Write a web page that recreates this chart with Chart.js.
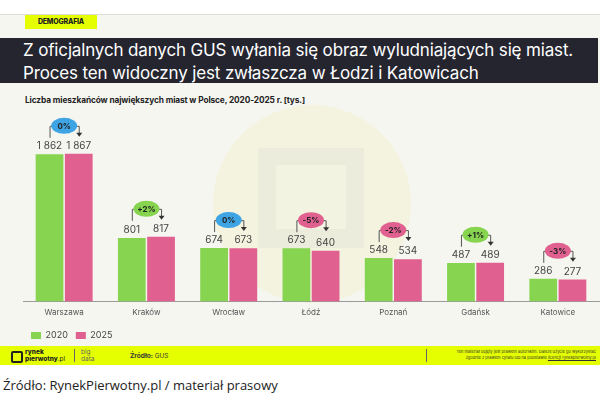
<!DOCTYPE html>
<html><head><meta charset="utf-8">
<script src="https://cdn.jsdelivr.net/npm/chart.js@4/dist/chart.umd.min.js"></script>
<style>
html,body{margin:0;padding:0;width:600px;height:400px;overflow:hidden;background:#fff;font-family:"Inter","Lato",sans-serif;}
#bg{position:absolute;left:0;top:14px;width:600px;height:332px;background:#f6f6f1;border-top:1px solid #dcdcd8;}
#circle{position:absolute;left:213px;top:105px;width:198px;height:198px;border-radius:50%;background:#f3f3df;}
#sq1{position:absolute;left:258px;top:148px;width:106px;height:100px;background:#ececdc;}
#sq2{position:absolute;left:276px;top:165px;width:70px;height:64px;background:#f3f3e2;}
#tag{position:absolute;left:25px;top:15px;width:72px;height:14px;background:#e6ff00;font-weight:800;font-size:7px;line-height:14px;text-align:center;color:#222;letter-spacing:-0.2px;}
#band{position:absolute;left:0;top:38px;width:598px;height:45px;background:#24252f;}
#title{position:absolute;left:23px;top:39px;color:#fff;font-size:17px;font-weight:400;line-height:22.5px;letter-spacing:-0.15px;white-space:nowrap;}
#sub{position:absolute;left:25px;top:95px;font-size:8.3px;font-weight:700;color:#222;white-space:nowrap;letter-spacing:-0.1px;}
#foot{position:absolute;left:0;top:346px;width:600px;height:19px;background:#e6ff00;font-size:6px;color:#333;}
#caption{position:absolute;left:3px;top:376px;font-family:"Open Sans",sans-serif;font-size:13px;color:#222;white-space:nowrap;}
#wrap{position:absolute;left:0;top:110px;width:600px;height:240px;}
</style></head><body>
<div id="bg"></div>
<div id="circle"></div><div id="sq1"></div><div id="sq2"></div>
<div id="tag">DEMOGRAFIA</div>
<div id="band"></div>
<div id="title">Z oficjalnych danych GUS wyłania się obraz wyludniających się miast.<br>Proces ten widoczny jest zwłaszcza w Łodzi i Katowicach</div>
<div id="sub">Liczba mieszkańców największych miast w Polsce, 2020-2025 r. [tys.]</div>
<div id="wrap"><canvas id="c" width="600" height="240"></canvas></div>
<div id="foot">
  <div style="position:absolute;left:11px;top:5px;width:8px;height:8px;border:2px solid #222;border-radius:2px;"></div>
  <div style="position:absolute;left:25px;top:3px;font-size:6.5px;font-weight:800;line-height:6.5px;color:#222;">rynek<br>pierwotny<span style="font-weight:400">.pl</span></div>
  <div style="position:absolute;left:74px;top:3px;height:13px;border-left:1px solid #666;"></div>
  <div style="position:absolute;left:81px;top:3px;font-size:6.5px;line-height:6.5px;color:#666;">big<br>data</div>
  <div style="position:absolute;left:130px;top:6px;font-size:6.5px;color:#333;"><b>Źródło:</b> GUS</div>
  <div style="position:absolute;left:426px;top:3px;height:13px;border-left:1px solid #666;"></div>
  <div style="position:absolute;right:4px;top:3px;font-size:4px;line-height:6px;text-align:right;color:#333;">Ten materiał objęty jest prawem autorskim. Dalsze użycie go wykorzystać<br>zgodnie z prawem cytatu lub na podstawie <u>licencji rynekpierwotny.pl</u></div>
</div>
<div id="caption">Źródło: RynekPierwotny.pl / materiał prasowy</div>
<script>
const categories = ["Warszawa","Kraków","Wrocław","Łódź","Poznań","Gdańsk","Katowice"];
const values2020 = [1862, 801, 674, 673, 548, 487, 286];
const values2025 = [1867, 817, 673, 640, 534, 489, 277];
const changeLabels = ["0%","+2%","0%","-5%","-2%","+1%","-3%"];
const seriesNames = ["2020","2025"];
const GREEN = "#86d44f", PINK = "#e0608f", BLUE = "#3fa4e4";

function fmt(v){ const s=String(v); return s.length>3 ? s.slice(0,s.length-3)+" "+s.slice(-3) : s; }

const annot = {
  id:"annot",
  afterDatasetsDraw(chart){
    const ctx = chart.ctx;
    const m0 = chart.getDatasetMeta(0), m1 = chart.getDatasetMeta(1);
    ctx.save();
    ctx.textAlign="center"; ctx.textBaseline="middle";
    for(let i=0;i<categories.length;i++){
      const b0=m0.data[i], b1=m1.data[i];
      ctx.font="400 10px Inter, sans-serif"; ctx.fillStyle="#444";
      ctx.fillText(fmt(values2020[i]), b0.x, b0.y-8);
      ctx.fillText(fmt(values2025[i]), b1.x, b1.y-8);
      const top=Math.min(b0.y,b1.y);
      const by=top-28, cx=(b0.x+b1.x)/2;
      const lab=changeLabels[i];
      const col = lab.startsWith("+") ? GREEN : (lab.startsWith("-") ? PINK : BLUE);
      ctx.strokeStyle="#555"; ctx.lineWidth=1;
      ctx.beginPath();
      ctx.moveTo(b0.x+0.5, by+12); ctx.lineTo(b0.x+0.5, by+0.5); ctx.lineTo(b1.x+0.5, by+0.5); ctx.lineTo(b1.x+0.5, by+8);
      ctx.stroke();
      ctx.fillStyle="#333";
      ctx.beginPath(); ctx.moveTo(b1.x-2.5,by+7); ctx.lineTo(b1.x+3.5,by+7); ctx.lineTo(b1.x+0.5,by+11); ctx.closePath(); ctx.fill();
      ctx.fillStyle=col;
      ctx.beginPath(); ctx.ellipse(cx, by, 13, 8, 0, 0, Math.PI*2); ctx.fill();
      ctx.fillStyle="#222"; ctx.font="700 8px Inter, sans-serif";
      ctx.fillText(lab, cx, by+0.5);
    }
    ctx.restore();
  }
};

new Chart(document.getElementById("c"), {
  type:"bar",
  data:{
    labels:categories,
    datasets:[
      {label:seriesNames[0], data:values2020, backgroundColor:GREEN, barPercentage:0.95, categoryPercentage:0.71},
      {label:seriesNames[1], data:values2025, backgroundColor:PINK, barPercentage:0.95, categoryPercentage:0.71}
    ]
  },
  options:{
    responsive:false, animation:false,
    layout:{padding:{left:23,right:1,top:8,bottom:0}},
    plugins:{
      legend:{position:"bottom", align:"start",
        labels:{boxWidth:10, boxHeight:7, font:{size:9, family:"Inter"}, color:"#444", padding:8}},
      tooltip:{enabled:false}
    },
    scales:{
      x:{grid:{display:false, drawTicks:false}, border:{color:"#9a9a9a", width:1},
         ticks:{color:"#555", font:{size:8, family:"Inter"}, padding:6}},
      y:{display:false, min:0, max:2320}
    }
  },
  plugins:[annot]
});
</script>
</body></html>
